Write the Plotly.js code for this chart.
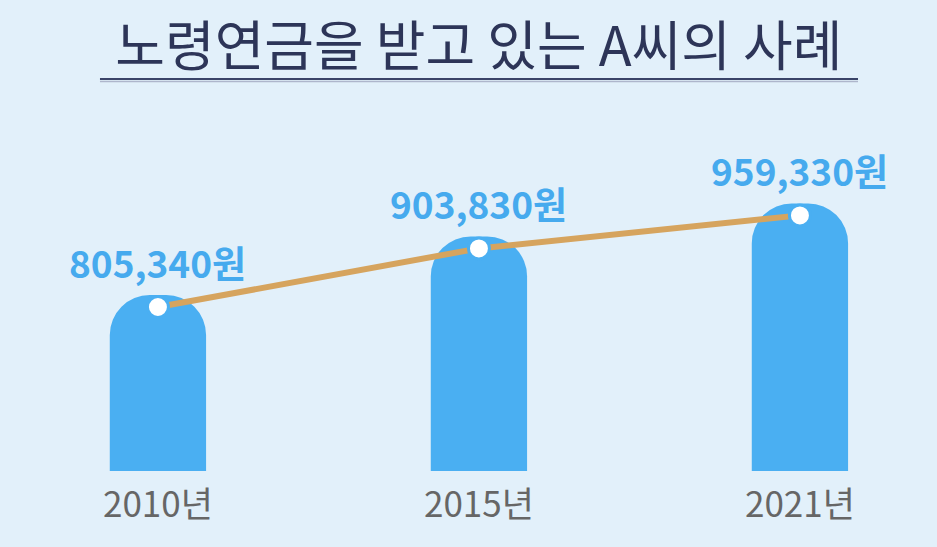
<!DOCTYPE html>
<html>
<head>
<meta charset="utf-8">
<script src="https://cdn.plot.ly/plotly-3.0.1.min.js"></script>
<style>
html,body{margin:0;padding:0;background:#E2F0FA;}
#chart{width:937px;height:547px;}
</style>
</head>
<body>
<div id="chart"></div>
<script>
const categories = ["2010년", "2015년", "2021년"];
const pensionValues = [805340, 903830, 959330];
const valueLabels = ["805,340원", "903,830원", "959,330원"];
const chartTitle = "노령연금을 받고 있는 A씨의 사례";

const FONT = '"Noto Sans CJK KR", "Noto Sans", sans-serif';

const barTrace = {
  type: 'bar',
  x: categories,
  y: pensionValues,
  width: 0.3,
  marker: {color: '#4AAFF2', cornerradius: 40, line: {width: 0}},
  hoverinfo: 'skip',
  yaxis: 'y'
};

const lineTrace = {
  type: 'scatter',
  mode: 'lines+markers',
  x: categories,
  y: pensionValues,
  line: {color: '#D6A45E', width: 6},
  marker: {size: 21, color: '#FFFFFF', line: {color: '#4AAFF2', width: 3}},
  hoverinfo: 'skip',
  yaxis: 'y2'
};

const annotations = categories.map((c, i) => ({
  x: c, y: pensionValues[i], xref: 'x', yref: 'y2',
  text: valueLabels[i], showarrow: false,
  yshift: 45,
  font: {family: FONT, size: 37, color: '#46AAEE', weight: 700}
}));

const layout = {
  width: 937, height: 547,
  margin: {l: 0, r: 0, t: 100, b: 76},
  paper_bgcolor: '#E2F0FA',
  plot_bgcolor: 'rgba(0,0,0,0)',
  showlegend: false,
  title: {
    text: chartTitle,
    font: {family: FONT, size: 54, color: '#2D3558'},
    x: 0.511, xanchor: 'center',
    y: 0.914, yanchor: 'middle', yref: 'container'
  },
  xaxis: {
    type: 'category',
    range: [-0.492, 2.427],
    showgrid: false, zeroline: false, showline: false,
    ticks: '', ticklabelstandoff: 10,
    tickfont: {family: FONT, size: 35, color: '#666666'},
    fixedrange: true
  },
  yaxis: {
    range: [509540, 1133080],
    visible: false, showgrid: false, zeroline: false, fixedrange: true
  },
  yaxis2: {
    range: [529710, 1153250],
    overlaying: 'y',
    visible: false, showgrid: false, zeroline: false, fixedrange: true
  },
  annotations: annotations,
  shapes: [
    {type: 'line', xref: 'paper', yref: 'paper', x0: 0.1067, x1: 0.9157, y0: 1.0566, y1: 1.0566,
     line: {color: '#3A4468', width: 2}},
    {type: 'line', xref: 'paper', yref: 'paper', x0: 0.1067, x1: 0.9157, y0: 1.0500, y1: 1.0500,
     line: {color: '#AEB6CC', width: 1.5}}
  ]
};

Plotly.newPlot('chart', [barTrace, lineTrace], layout, {displayModeBar: false, staticPlot: true});
</script>
</body>
</html>
